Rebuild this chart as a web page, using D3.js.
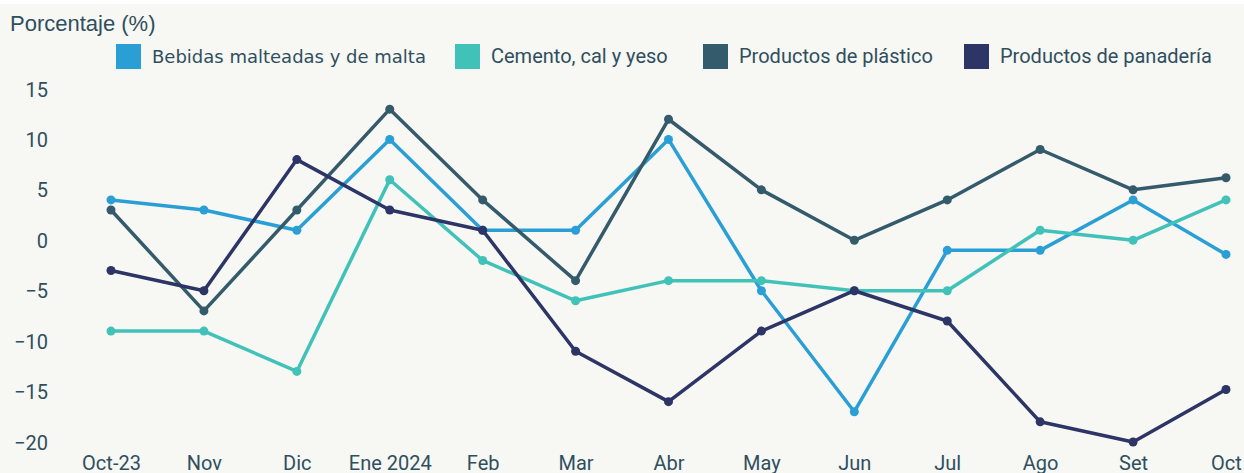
<!DOCTYPE html>
<meta charset="utf-8">
<style>
body { margin: 0; background: #fff; }
text { fill: #2f4f5f; }
.axis text { font-family: "Liberation Sans Narrow", "Roboto", sans-serif; font-size: 20px; }
.axis path, .axis line { display: none; }
</style>
<svg width="1244" height="473"></svg>
<script src="https://cdn.jsdelivr.net/npm/d3@7"></script>
<script>

var months = ["Oct-23","Nov","Dic","Ene 2024","Feb","Mar","Abr","May","Jun","Jul","Ago","Set","Oct"];

var bebidas   = [4, 3, 1, 10, 1, 1, 10, -5, -17, -1, -1, 4, -1.4];
var cemento   = [-9, -9, -13, 6, -2, -6, -4, -4, -5, -5, 1, 0, 4];
var plastico  = [3, -7, 3, 13, 4, -4, 12, 5, 0, 4, 9, 5, 6.2];
var panaderia = [-3, -5, 8, 3, 1, -11, -16, -9, -5, -8, -18, -20, -14.8];

var seriesNames  = ["Bebidas malteadas y de malta", "Cemento, cal y yeso", "Productos de plástico", "Productos de panadería"];
var seriesColors = ["#2a9fd6", "#41c2b9", "#345b6b", "#2c3566"];
var seriesData   = [bebidas, cemento, plastico, panaderia];

var yTicks = [15, 10, 5, 0, -5, -10, -15, -20];

var svg = d3.select("svg");

// background (thin white strip on top like the original)
svg.append("rect").attr("x", 0).attr("y", 4).attr("width", 1244).attr("height", 469).attr("fill", "#f7f7f3");

var x = d3.scalePoint().domain(months).range([111, 1226]);
var y = d3.scaleLinear().domain([-20, 15]).range([442, 89]);

svg.append("text")
    .attr("x", 10).attr("y", 31)
    .style("font-family", "Liberation Sans, Arial, sans-serif")
    .style("font-size", "22px")
    .text("Porcentaje (%)");

// y axis
svg.append("g")
    .attr("class", "axis")
    .attr("transform", "translate(48,0)")
    .call(d3.axisLeft(y).tickValues(yTicks).tickSize(0).tickPadding(0))
    .selectAll("text").attr("dy", "0.35em");

// x axis
svg.append("g")
    .attr("class", "axis")
    .attr("transform", "translate(0,451)")
    .call(d3.axisBottom(x).tickSize(0).tickPadding(0))
    .selectAll("text").attr("dy", "0.95em");

var line = d3.line()
    .x(function(d, i) { return x(months[i]); })
    .y(function(d) { return y(d); });

seriesData.forEach(function(vals, k) {
  var g = svg.append("g");
  g.append("path")
      .datum(vals)
      .attr("d", line)
      .attr("fill", "none")
      .attr("stroke", seriesColors[k])
      .attr("stroke-width", 3.5)
      .attr("stroke-linejoin", "round");
  g.selectAll("circle")
      .data(vals)
      .enter().append("circle")
      .attr("cx", function(d, i) { return x(months[i]); })
      .attr("cy", function(d) { return y(d); })
      .attr("r", 4.5)
      .attr("fill", seriesColors[k]);
});

// legend
var legendX = [116, 455, 703, 964];
seriesNames.forEach(function(name, k) {
  var lg = svg.append("g").attr("transform", "translate(" + legendX[k] + ",44)");
  lg.append("rect").attr("width", 25).attr("height", 25).attr("fill", seriesColors[k]);
  lg.append("text")
      .attr("x", 36).attr("y", 19)
      .style("font-family", k == 0 ? "DejaVu Sans, sans-serif" : "Liberation Sans Narrow, Roboto, sans-serif")
      .style("font-size", k == 0 ? "18px" : "20px")
      .text(name);
});

</script>
